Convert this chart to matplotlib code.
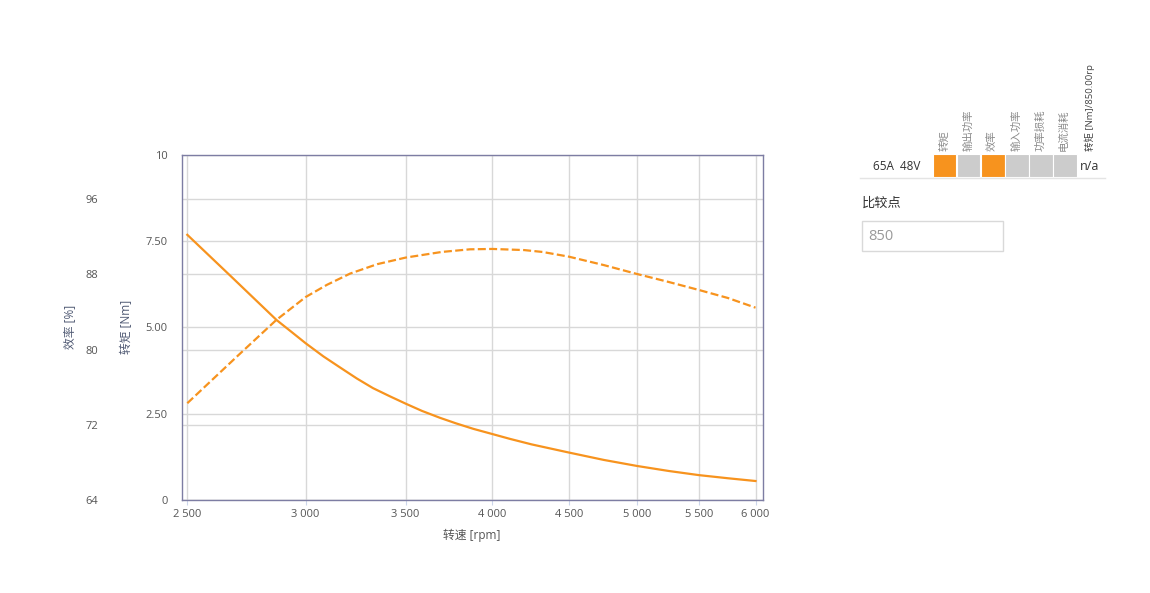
import matplotlib
matplotlib.use("Agg")
import matplotlib.pyplot as plt
from matplotlib.patches import Rectangle

plt.rcParams['font.family'] = ['Open Sans', 'Noto Sans CJK SC', 'DejaVu Sans']

# torque curve (rpm -> Nm)
torque_rpm = [2500, 2678, 2869, 2933, 3000, 3083, 3163, 3246, 3328, 3417, 3500, 3589,
              3690, 3782, 3885, 4000, 4110, 4250, 4500, 4750, 5000, 5250, 5500, 5750, 6000]
torque_nm = [7.68, 6.45, 5.21, 4.88, 4.54, 4.16, 3.84, 3.52, 3.24, 3.00, 2.79, 2.58,
             2.38, 2.22, 2.06, 1.91, 1.77, 1.61, 1.375, 1.16, 0.985, 0.84, 0.72, 0.63, 0.55]

# efficiency curve (rpm -> %)
eff_rpm = [2500, 2700, 2867, 3000, 3100, 3213, 3350, 3500, 3700, 3864, 4000, 4200, 4321,
           4500, 4750, 5000, 5250, 5500, 5750, 6000]
eff_pct = [74.3, 79.3, 83.15, 85.6, 86.9, 88.1, 89.1, 89.8, 90.4, 90.68, 90.72, 90.6, 90.4,
           89.9, 89.0, 88.05, 87.2, 86.35, 85.5, 84.47]

x_ticks = [2500, 3000, 3500, 4000, 4500, 5000, 5500, 6000]
x_labels = ['2 500', '3 000', '3 500', '4 000', '4 500', '5 000', '5 500', '6 000']
torque_ticks = [0, 2.5, 5, 7.5, 10]
torque_labels = ['0', '2.50', '5.00', '7.50', '10']
eff_ticks = [64, 72, 80, 88, 96]

# legend table
series_names = ['转矩', '输出功率', '效率', '输入功率', '功率损耗', '电流消耗']
series_on = [True, False, True, False, False, False]
row_label = '65A  48V'
value_header = '转矩 [Nm]/850.00rp'
value_text = 'n/a'
compare_label = '比较点'
compare_value = '850'

ORANGE = '#f7931e'
GRID = '#d8d8d8'
FRAME = '#7d7da3'
TICKTXT = '#555555'
TITLE = '#4e5872'

W, H = 1150, 593
fig = plt.figure(figsize=(W / 100, H / 100), dpi=100)


def fx(px):
    return px / W


def fy(py):
    return 1 - py / H


ax = fig.add_axes([fx(181.7), fy(500), fx(762.5) - fx(181.7), fy(154.7) - fy(500)])
ax2 = ax.twinx()

ax.set_xscale('log')
ax.set_xlim(2478.5, 6065)
ax.set_ylim(0, 10)
ax2.set_ylim(64, 100.75)

ax.set_xticks(x_ticks)
ax.set_xticklabels(x_labels)
ax.xaxis.set_minor_locator(matplotlib.ticker.NullLocator())
ax.set_yticks(torque_ticks)
ax.set_yticklabels(torque_labels)
ax2.set_yticks(eff_ticks)
ax2.set_yticklabels([str(t) for t in eff_ticks])
ax2.yaxis.tick_left()

ax.grid(True, color=GRID, linewidth=1)
ax2.grid(True, axis='y', color=GRID, linewidth=1)
ax.set_axisbelow(True)

ax.tick_params(axis='x', length=3.6, color='#ccd6eb', pad=3, labelsize=8, labelcolor=TICKTXT)
ax.tick_params(axis='y', length=0, pad=10, labelsize=8, labelcolor=TICKTXT)
ax2.tick_params(axis='y', length=0, pad=60, labelsize=8, labelcolor=TICKTXT)

# frame drawn by the top axes so grid lines do not cross it
for sp in ax.spines.values():
    sp.set_visible(False)
for sp in ax2.spines.values():
    sp.set_visible(True)
    sp.set_color(FRAME)
    sp.set_linewidth(1)

# both curves on the top axes so every grid line stays underneath
ax2.plot(eff_rpm, eff_pct, color=ORANGE, lw=1.6, dashes=(3.6, 1.5))
ax2.plot(torque_rpm, torque_nm, color=ORANGE, lw=1.6, transform=ax.transData)

ax.set_xlabel('转速 [rpm]', fontsize=8.5, color=TICKTXT, labelpad=6)
fig.text(fx(127), fy(327), '转矩 [Nm]', rotation=90, ha='center', va='center',
         fontsize=8.5, color=TITLE)
fig.text(fx(70), fy(327), '效率 [%]', rotation=90, ha='center', va='center',
         fontsize=8.5, color=TITLE)

# legend table on the right
sq_w, sq_h, x0, y_top = 24, 23, 932.5, 154
for i, (name, on) in enumerate(zip(series_names, series_on)):
    left = x0 + i * 24
    fig.add_artist(Rectangle((fx(left), fy(y_top + sq_h)), sq_w / W, sq_h / H,
                             transform=fig.transFigure,
                             facecolor=ORANGE if on else '#cccccc',
                             edgecolor='white', lw=0.8))
    fig.text(fx(left + sq_w / 2), fy(151), name, rotation=90, ha='center', va='bottom',
             fontsize=7.5, color='#8a8a8a')
fig.text(fx(1090), fy(151), value_header, rotation=90, ha='center', va='bottom',
         fontsize=6.8, color='#444444')
fig.text(fx(920), fy(166), row_label, ha='right', va='center', fontsize=8.5, color='#333333')
fig.text(fx(1080), fy(166), value_text, ha='left', va='center', fontsize=9, color='#333333')
fig.add_artist(plt.Line2D([fx(860), fx(1105)], [fy(178.5), fy(178.5)],
                          transform=fig.transFigure, color='#e4e4e4', lw=1))

fig.text(fx(862), fy(203), compare_label, ha='left', va='center', fontsize=9.5, color='#333333')
fig.add_artist(Rectangle((fx(861.5), fy(250.5)), 141.5 / W, 29.5 / H,
                         transform=fig.transFigure, facecolor='white',
                         edgecolor='#d9d9d9', lw=1))
fig.text(fx(868), fy(236), compare_value, ha='left', va='center', fontsize=10.5, color='#999999')

fig.savefig('out.png', dpi=100)
